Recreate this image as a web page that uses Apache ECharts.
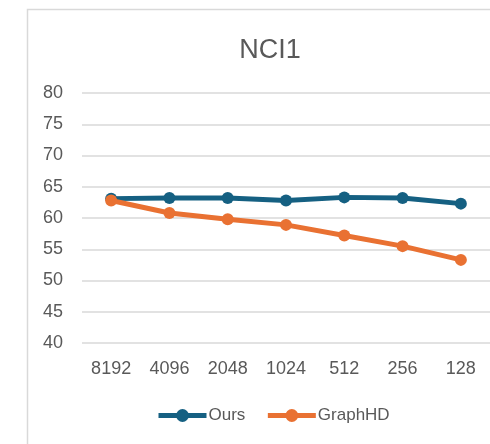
<!DOCTYPE html>
<html>
<head>
<meta charset="utf-8">
<script src="https://cdn.jsdelivr.net/npm/echarts@6/dist/echarts.min.js"></script>
<style>
  html, body { margin: 0; padding: 0; background: #fff; }
  #chart { width: 490px; height: 444px; }
</style>
</head>
<body>
<div id="chart"></div>
<script>
// Hypervector dimension on the x axis, accuracy (%) on the y axis
const dimensions = ['8192', '4096', '2048', '1024', '512', '256', '128'];
const oursAcc = [63.1, 63.2, 63.2, 62.8, 63.3, 63.2, 62.3];
const graphHdAcc = [62.8, 60.8, 59.8, 58.9, 57.2, 55.5, 53.3];
const yTicks = [40, 45, 50, 55, 60, 65, 70, 75, 80];

const FONT = '"Liberation Sans", Arial, sans-serif';
const TEXT = '#595959';
const BLUE = '#156082';
const ORANGE = '#E97132';

const chart = echarts.init(document.getElementById('chart'), null, { renderer: 'canvas' });

chart.setOption({
  animation: false,
  backgroundColor: '#fff',
  graphic: [{
    type: 'rect',
    shape: { x: 27.5, y: 9.5, width: 480, height: 450 },
    style: { fill: 'none', stroke: '#d9d9d9', lineWidth: 1.5 },
    silent: true,
    z: -1
  }],
  title: {
    text: 'NCI1',
    left: 265,
    top: 32,
    textAlign: 'center',
    textStyle: { fontFamily: FONT, fontSize: 27, fontWeight: 'normal', color: TEXT }
  },
  grid: { left: 82, right: 0, top: 93, bottom: 101, containLabel: false },
  xAxis: {
    type: 'category',
    data: dimensions,
    boundaryGap: true,
    axisLine: { show: false },
    axisTick: { show: false },
    axisLabel: { fontFamily: FONT, fontSize: 18, color: TEXT, margin: 17 }
  },
  yAxis: {
    type: 'value',
    min: yTicks[0],
    max: yTicks[yTicks.length - 1],
    interval: 5,
    axisLine: { show: false },
    axisTick: { show: false },
    axisLabel: { fontFamily: FONT, fontSize: 18, color: TEXT, margin: 19 },
    splitLine: { lineStyle: { color: '#d9d9d9', width: 1.5 } }
  },
  legend: {
    top: 402,
    left: 151,
    itemWidth: 48,
    itemHeight: 16,
    itemGap: 20,
    lineStyle: { width: 5 },
    textStyle: { fontFamily: FONT, fontSize: 17, color: TEXT, padding: [0, 0, 0, -3] },
    data: ['Ours', 'GraphHD']
  },
  series: [
    {
      name: 'GraphHD',
      type: 'line',
      data: graphHdAcc,
      symbol: 'circle',
      symbolSize: 12,
      color: ORANGE,
      lineStyle: { width: 5, color: ORANGE },
      itemStyle: { color: ORANGE },
      z: 2
    },
    {
      name: 'Ours',
      type: 'line',
      data: oursAcc,
      symbol: 'circle',
      symbolSize: 12,
      color: BLUE,
      lineStyle: { width: 5, color: BLUE },
      itemStyle: { color: BLUE },
      z: 1
    }
  ]
});
</script>
</body>
</html>
